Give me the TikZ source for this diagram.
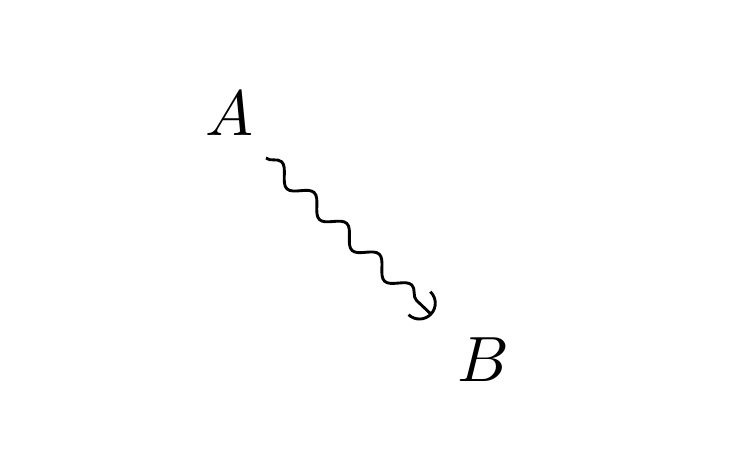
\documentclass[tikz,border=0pt]{standalone}
\usetikzlibrary{arrows.meta,decorations.pathmorphing}
\begin{document}
\begin{tikzpicture}[
  x=0.15625pt, y=-0.15625pt,
  obj/.style={inner sep=3.33pt},
  squig/.style={-{Arc Barb[width=5.4pt,length=2.7pt]},line width=0.45pt,
    decorate,decoration={snake,amplitude=1.25pt,segment length=7pt,post length=2.7pt}}
]
  \useasboundingbox (0,0) rectangle (740,469);
  % Objects
  \node[obj] (a) at (229,113.5) {$A$};
  \node[obj] (b) at (483,359.5) {$B$};
  % Morphism
  \draw[squig] ([xshift=-1.5pt]a.south east) -- ([xshift=-0.4pt]b.north west);
\end{tikzpicture}
\end{document}
